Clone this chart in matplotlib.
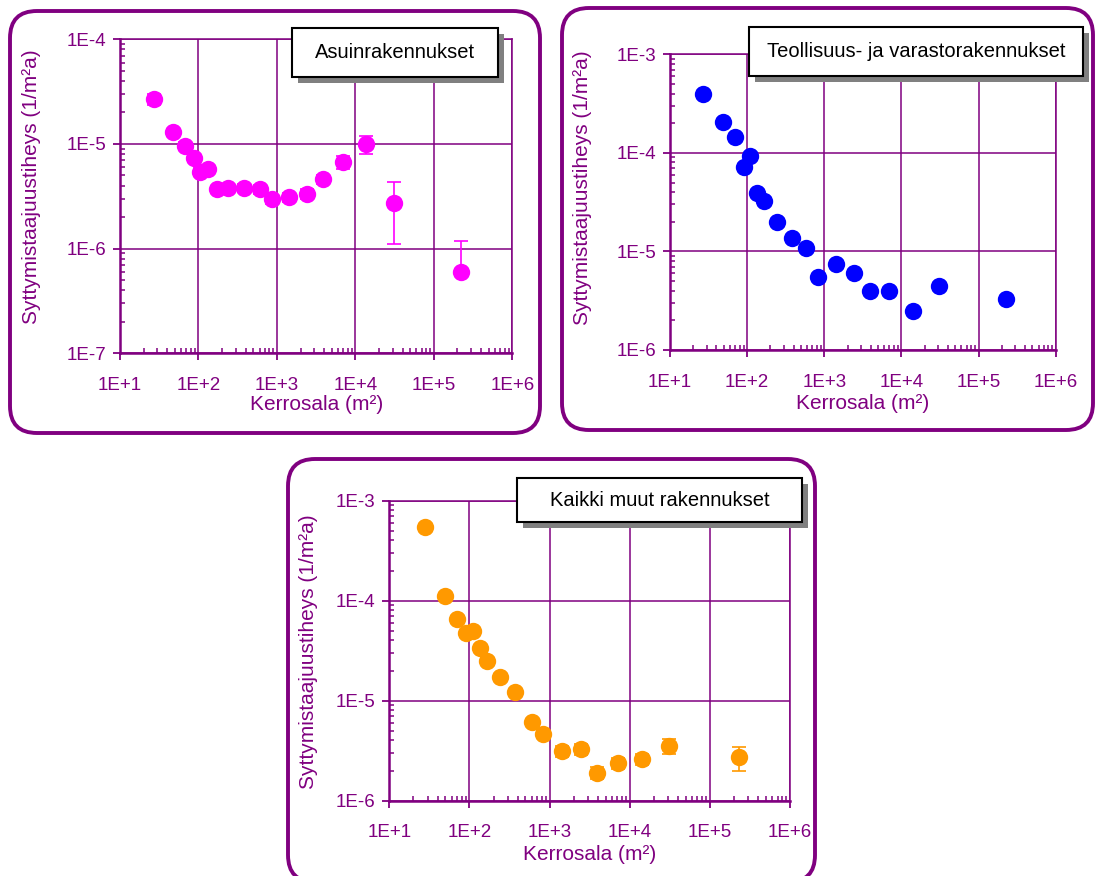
import matplotlib
matplotlib.use("Agg")
import matplotlib.pyplot as plt
import numpy as np
from matplotlib.patches import FancyBboxPatch, Rectangle
from matplotlib.ticker import FuncFormatter, LogLocator, NullFormatter

plt.rcParams["font.family"] = ["Liberation Sans", "DejaVu Sans"]

PURPLE = "#800080"
W, H = 1097, 876

# Asuinrakennukset
area_res = [27, 47, 68, 88, 105, 133, 170, 240, 385, 605, 855, 1420, 2410, 3890, 6870, 13600, 30900, 221000]
freq_res = [2.7e-5, 1.3e-5, 9.6e-6, 7.4e-6, 5.4e-6, 5.8e-6, 3.7e-6, 3.8e-6, 3.8e-6, 3.7e-6, 2.95e-6,
            3.1e-6, 3.35e-6, 4.6e-6, 6.7e-6, 1.0e-5, 2.7e-6, 6.0e-7]
err_res = [3.3e-6, 1.0e-6, 0.8e-6, 0.7e-6, 0.5e-6, 0.5e-6, 0.3e-6, 0.3e-6, 0.3e-6, 0.35e-6, 0.3e-6,
           0.3e-6, 0.35e-6, 0.5e-6, 0.9e-6, 2.0e-6, 1.6e-6, 5.8e-7]

# Teollisuus- ja varastorakennukset
area_ind = [27, 49, 70, 90, 109, 133, 167, 242, 386, 580, 839, 1422, 2436, 3930, 6990, 14190, 30800, 228000]
freq_ind = [3.95e-4, 2.07e-4, 1.44e-4, 7.15e-5, 9.3e-5, 3.95e-5, 3.27e-5, 1.97e-5, 1.38e-5, 1.08e-5,
            5.45e-6, 7.45e-6, 6.0e-6, 3.97e-6, 3.97e-6, 2.49e-6, 4.5e-6, 3.3e-6]

# Kaikki muut rakennukset
area_oth = [27.9, 49, 69, 90, 110, 136, 167, 241, 371, 600, 838, 1420, 2450, 3880, 7230, 14160, 31300, 230000]
freq_oth = [5.5e-4, 1.12e-4, 6.5e-5, 4.72e-5, 4.98e-5, 3.34e-5, 2.49e-5, 1.74e-5, 1.21e-5, 6.17e-6,
            4.68e-6, 3.14e-6, 3.27e-6, 1.9e-6, 2.37e-6, 2.61e-6, 3.55e-6, 2.72e-6]
err_oth = [3e-5, 8e-6, 5e-6, 3e-6, 3e-6, 2e-6, 1.5e-6, 1e-6, 0.8e-6, 0.4e-6,
           0.3e-6, 0.4e-6, 0.4e-6, 0.25e-6, 0.3e-6, 0.35e-6, 0.62e-6, 0.72e-6]


def fx(px):
    return px / W


def fy(py):
    return 1 - py / H


def decade_label(v, pos):
    return f"1E{int(round(np.log10(v))):+d}"


def make_panel(fig, axbox, frame, title_box, ylim, x, y, color, title, err=None,
               ylab_xy=(0, 0), xlab_y=0):
    l, t, r, b = axbox
    ax = fig.add_axes([fx(l), fy(b), fx(r - l), (b - t) / H])
    ax.set_xscale("log")
    ax.set_yscale("log")
    ax.set_xlim(10, 1e6)
    ax.set_ylim(*ylim)

    if err is not None:
        y_arr = np.asarray(y)
        e = np.asarray(err)
        # on a log axis a lower bar reaching zero is left out
        lower = np.where(e >= y_arr * 0.9, 0, e)
        ax.errorbar(x, y, yerr=[lower, e], fmt="none", ecolor=color, elinewidth=1.2,
                    capsize=5, capthick=1.2, zorder=3)
    ax.plot(x, y, "o", color=color, markersize=12.5, markeredgewidth=0, zorder=4)

    ax.xaxis.set_major_locator(LogLocator(base=10, numticks=10))
    ax.yaxis.set_major_locator(LogLocator(base=10, numticks=10))
    ax.xaxis.set_minor_locator(LogLocator(base=10, subs=np.arange(2, 10), numticks=10))
    ax.yaxis.set_minor_locator(LogLocator(base=10, subs=np.arange(2, 10), numticks=10))
    ax.xaxis.set_major_formatter(FuncFormatter(decade_label))
    ax.yaxis.set_major_formatter(FuncFormatter(decade_label))
    ax.xaxis.set_minor_formatter(NullFormatter())
    ax.yaxis.set_minor_formatter(NullFormatter())

    ax.grid(True, which="major", color=PURPLE, linewidth=1.1)
    ax.set_axisbelow(True)
    for side in ["left", "bottom"]:
        ax.spines[side].set_color(PURPLE)
        ax.spines[side].set_linewidth(1.8)
    for side in ["top", "right"]:
        ax.spines[side].set_color(PURPLE)
        ax.spines[side].set_linewidth(1.1)

    ax.tick_params(which="major", direction="out", length=5, width=1.3, color=PURPLE,
                   labelcolor=PURPLE, labelsize=13.5)
    ax.tick_params(axis="x", which="major", pad=12)
    ax.tick_params(axis="y", which="major", pad=5)
    ax.tick_params(which="minor", direction="in", length=3.5, width=1.1, color=PURPLE)

    fig.text(fx(ylab_xy[0]), fy(ylab_xy[1]), "Syttymistaajuustiheys (1/m²a)", rotation=90,
             ha="center", va="center", color=PURPLE, fontsize=15)
    fig.text(fx((l + r) / 2), fy(xlab_y), "Kerrosala (m²)", ha="center", va="center",
             color=PURPLE, fontsize=15)

    # rounded outer frame
    fl, ft, fr, fb = frame
    fig.patches.append(FancyBboxPatch((fl / 100, (H - fb) / 100), (fr - fl) / 100, (fb - ft) / 100,
                                      boxstyle="round,pad=0,rounding_size=0.27",
                                      transform=fig.dpi_scale_trans, fill=False,
                                      edgecolor=PURPLE, linewidth=2.8, zorder=5))

    # title box with drop shadow
    bl, bt, br, bb = title_box
    fig.patches.append(Rectangle((fx(bl + 6), fy(bb + 6)), fx(br - bl), (bb - bt) / H,
                                 transform=fig.transFigure, facecolor="#808080",
                                 edgecolor="none", zorder=6))
    fig.patches.append(Rectangle((fx(bl), fy(bb)), fx(br - bl), (bb - bt) / H,
                                 transform=fig.transFigure, facecolor="white",
                                 edgecolor="black", linewidth=1.5, zorder=7))
    fig.text(fx((bl + br) / 2), fy((bt + bb) / 2), title, ha="center", va="center",
             color="black", fontsize=14.5, zorder=8)
    return ax


fig = plt.figure(figsize=(W / 100, H / 100), dpi=100)

make_panel(fig, (120, 39.3, 512.3, 353.3), (10, 11, 540, 433), (292, 28, 498, 77),
           (1e-7, 1e-4), area_res, freq_res, "#FF00FF", "Asuinrakennukset",
           err=err_res, ylab_xy=(32, 187), xlab_y=405)
make_panel(fig, (670, 54.3, 1055.7, 350), (562, 8, 1093, 430), (749, 27, 1083, 76),
           (1e-6, 1e-3), area_ind, freq_ind, "#0000FF", "Teollisuus- ja varastorakennukset",
           ylab_xy=(583, 188), xlab_y=404)
make_panel(fig, (389.3, 500.7, 790, 800.7), (288, 459, 815, 882), (517, 478, 802, 522),
           (1e-6, 1e-3), area_oth, freq_oth, "#FF9900", "Kaikki muut rakennukset",
           err=err_oth, ylab_xy=(308, 652), xlab_y=855)

fig.savefig("out.png", dpi=100)
